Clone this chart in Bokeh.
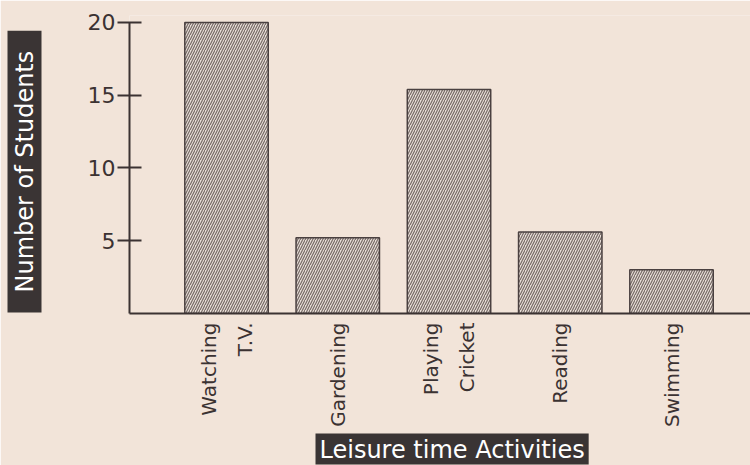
import math
from bokeh.plotting import figure
from bokeh.models import Range1d, FixedTicker, Title
from bokeh.embed import file_html
from bokeh.resources import INLINE

# ---- data ----
activities = ["Watching\nT.V.", "Gardening", "Playing\nCricket", "Reading", "Swimming"]
students = [20, 5.2, 15.4, 5.6, 3.0]
y_ticks = [5, 10, 15, 20]
x_title = "Leisure time Activities"
y_title = "Number of Students"

# ---- styles ----
BG = "#f2e4d9"
INK = "#3b3232"
BOX = "#3a3434"
FONT = "DejaVu Sans"

xs = list(range(len(activities)))

p = figure(width=750, height=465, output_backend="svg", toolbar_location=None,
           x_range=Range1d(-0.872, 4.71), y_range=Range1d(0, 20.48),
           min_border_left=0, min_border_right=0, min_border_top=15, min_border_bottom=0)
p.background_fill_color = BG
p.border_fill_color = BG
p.outline_line_color = None
p.grid.visible = False

p.vbar(x=xs, top=students, width=0.75, bottom=0,
       fill_color="#e8ded8", line_color="#4a4040", line_width=1.5,
       hatch_pattern="/", hatch_color="#766a66", hatch_scale=5, hatch_weight=1.2)

# y axis
ya = p.yaxis[0]
ya.ticker = FixedTicker(ticks=y_ticks)
ya.bounds = (0, 20)
ya.axis_line_color = INK
ya.axis_line_width = 2
ya.major_tick_line_color = INK
ya.major_tick_line_width = 2
ya.major_tick_in = 12
ya.major_tick_out = 12
ya.minor_tick_line_color = None
ya.major_label_text_font = FONT
ya.major_label_text_font_size = "22px"
ya.major_label_text_color = INK
ya.major_label_standoff = 2

# x axis
xa = p.xaxis[0]
xa.ticker = FixedTicker(ticks=xs)
xa.major_label_overrides = {i: a for i, a in zip(xs, activities)}
xa.major_label_orientation = math.pi / 2
xa.axis_line_color = INK
xa.axis_line_width = 2
xa.major_tick_line_color = None
xa.minor_tick_line_color = None
xa.major_label_text_font = FONT
xa.major_label_text_font_size = "20px"
xa.major_label_text_line_height = 1.5
xa.major_label_text_color = INK
xa.major_label_standoff = 3

# axis titles as dark boxes
p.add_layout(Title(text=y_title, align="left", vertical_align="top", offset=1, standoff=14,
                   text_font=FONT, text_font_size="24px", text_font_style="normal",
                   text_color="white", background_fill_color=BOX,
                   padding=dict(left=20, right=20, top=3, bottom=3)), "left")
p.add_layout(Title(text=x_title, align="left", vertical_align="bottom", offset=186, standoff=2,
                   text_font=FONT, text_font_size="24px", text_font_style="normal",
                   text_color="white", background_fill_color=BOX,
                   padding=dict(left=4, right=4, top=2, bottom=1)), "below")

open("out.html", "w").write(file_html(p, INLINE))
